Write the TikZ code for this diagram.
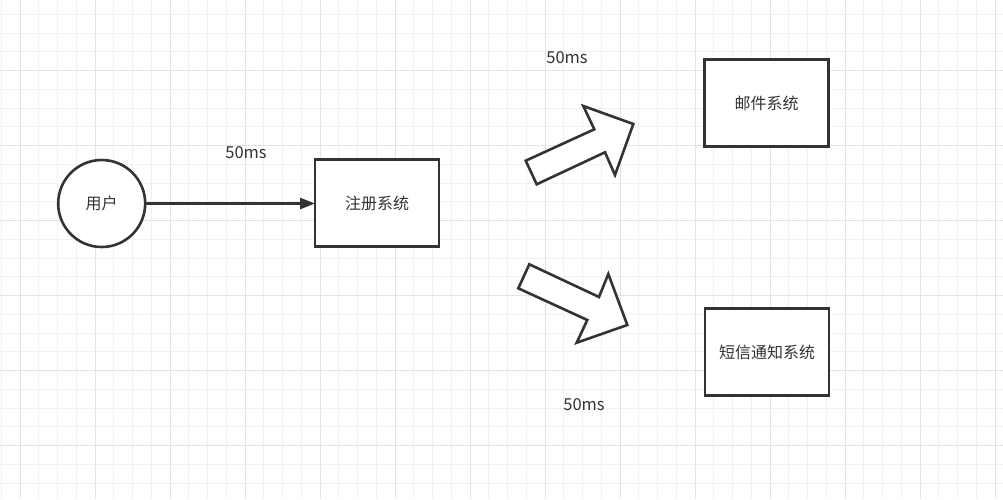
\documentclass[tikz,border=0pt]{standalone}
\usepackage{fontspec}
\setmainfont{Noto Sans CJK SC}
\usetikzlibrary{arrows.meta}
\definecolor{ink}{HTML}{333333}
\definecolor{gridminor}{HTML}{F1F1F1}
\definecolor{gridmajor}{HTML}{E4E4E4}
\tikzset{
  minorline/.style={draw=gridminor,line width=1pt},
  majorline/.style={draw=gridmajor,line width=1pt},
  sysbox/.style={draw=ink,line width=2.6pt,fill=white,rectangle,minimum width=124pt,minimum height=87pt,inner sep=0pt,outer sep=0pt,text=ink,font=\fontsize{16}{18}\selectfont},
  userbox/.style={draw=ink,line width=2.6pt,fill=white,circle,minimum size=87pt,inner sep=0pt,outer sep=0pt,text=ink,font=\fontsize{16}{18}\selectfont},
  lbl/.style={text=ink,inner sep=0pt,font=\fontsize{16.5}{18}\selectfont},
  conn/.style={draw=ink,line width=2.6pt,-{Triangle[length=15pt,width=11pt]}},
  blockarrow/.style={draw=ink,line width=2.6pt,fill=white,line join=miter}
}
\begin{document}
\begin{tikzpicture}[x=1pt,y=-1pt]
\useasboundingbox (0,0) rectangle (1003,499);
\fill[white] (0,0) rectangle (1003,499);
% grid
\foreach \k in {0,...,53} { \draw[minorline] ({1.25+18.75*\k},0) -- ({1.25+18.75*\k},499); }
\foreach \k in {0,...,26} { \draw[minorline] (0,{-4.3+18.75*\k}) -- (1003,{-4.3+18.75*\k}); }
\foreach \k in {0,...,13} { \draw[majorline] ({20+75*\k},0) -- ({20+75*\k},499); }
\foreach \k in {0,...,5} { \draw[majorline] (0,{70.7+75*\k}) -- (1003,{70.7+75*\k}); }
% nodes
\node[userbox] (user) at (101.7,203.5) {用户};
\node[sysbox] (reg) at (377,203) {注册系统};
\node[sysbox] (mail) at (766.5,103) {邮件系统};
\node[sysbox] (sms) at (767,352) {短信通知系统};
% labels
\node[lbl] (l1) at (246,153) {50ms};
\node[lbl] (l2) at (567,58) {50ms};
\node[lbl] (l3) at (584,405) {50ms};
% connector
\draw[conn] (user.east) -- (reg.west |- user.east);
% block arrows
\draw[blockarrow] (525.7,160.7) -- (594.3,129.3) -- (583.3,106) -- (633.3,124) -- (615,175) -- (605,152.3) -- (536.7,184.3) -- cycle;
\draw[blockarrow] (529.3,264.3) -- (599,297) -- (608.3,274) -- (627.3,325) -- (576.7,342.7) -- (587.3,320) -- (518.3,288.3) -- cycle;
\end{tikzpicture}
\end{document}
